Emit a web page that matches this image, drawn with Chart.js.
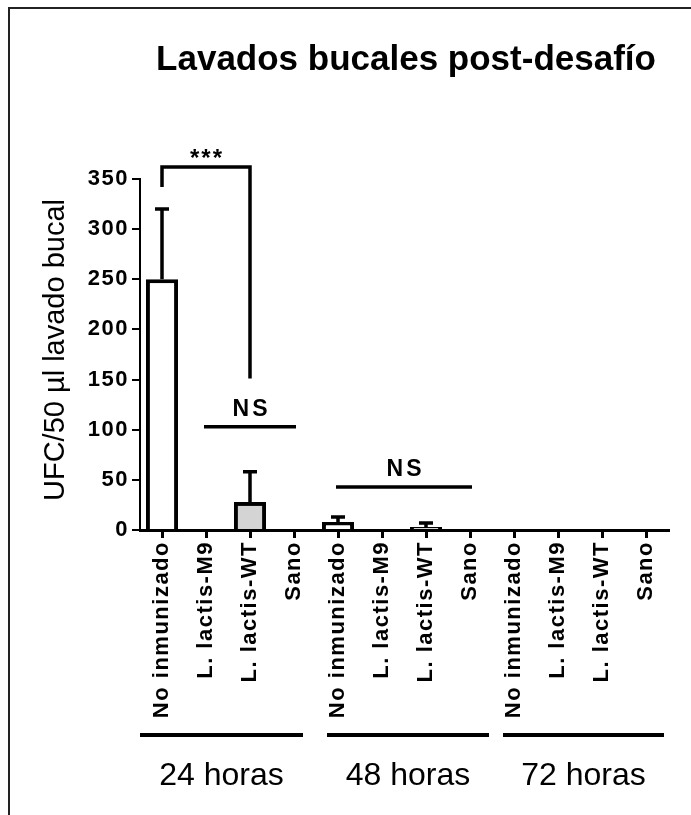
<!DOCTYPE html>
<html><head><meta charset="utf-8">
<script src="https://cdn.jsdelivr.net/npm/chart.js@4.4.1/dist/chart.umd.min.js"></script>
<style>html,body{margin:0;padding:0;background:#fff;overflow:hidden}#wrap{width:691px;height:815px;position:relative}</style>
</head><body><div id="wrap"><canvas id="c" width="691" height="815"></canvas></div>
<script>
const categories = ['No inmunizado','L. lactis-M9','L. lactis-WT','Sano',
                    'No inmunizado','L. lactis-M9','L. lactis-WT','Sano',
                    'No inmunizado','L. lactis-M9','L. lactis-WT','Sano'];
const groupLabels = ['24 horas','48 horas','72 horas'];
const groupFirst = [0,4,8];
const groupLast = [3,7,11];
const means  = [250,0,28,0, 8,0,3,0, 0,0,0,0];
const errors = [70,0,30,0, 5,0,4,0, 0,0,0,0];
const yTickValues = [0,50,100,150,200,250,300,350];
const sigLabels = ['***','NS','NS'];
const sigFrom = [0,1,4];
const sigTo = [2,3,7];
const sigLevel = [362,103,43];
const barColors = ['#ffffff','#ffffff','#d4d4d4','#ffffff'];

const FONT = "'Liberation Sans', Arial, Helvetica, sans-serif";

const extras = {
  id: 'extras',
  beforeDraw(chart) {
    chart.ctx.letterSpacing = '1.5px';
  },
  afterDatasetsDraw(chart) {
    const ctx = chart.ctx;
    const xs = chart.scales.x, ys = chart.scales.y;
    ctx.save();
    ctx.strokeStyle = '#000';
    ctx.lineWidth = 3.5;
    ctx.lineCap = 'butt';
    for (let i = 0; i < means.length; i++) {
      if (!errors[i]) continue;
      const x = xs.getPixelForValue(i);
      const y0 = ys.getPixelForValue(means[i]);
      const y1 = ys.getPixelForValue(means[i] + errors[i]);
      ctx.beginPath();
      ctx.moveTo(x, y0); ctx.lineTo(x, y1);
      ctx.moveTo(x - 7, y1); ctx.lineTo(x + 7, y1);
      ctx.stroke();
    }
    ctx.restore();
  },
  afterDraw(chart) {
    const ctx = chart.ctx;
    const xs = chart.scales.x, ys = chart.scales.y;
    ctx.save();
    ctx.letterSpacing = '0px';
    ctx.strokeStyle = '#222';
    ctx.lineWidth = 2;
    ctx.beginPath();
    ctx.moveTo(9, 815); ctx.lineTo(9, 8); ctx.lineTo(691, 8);
    ctx.stroke();
    ctx.fillStyle = '#000';
    ctx.textAlign = 'center';
    ctx.textBaseline = 'alphabetic';
    ctx.font = 'bold 35px ' + FONT;
    ctx.fillText('Lavados bucales post-desafío', 406, 70);
    ctx.save();
    ctx.translate(56, 350);
    ctx.rotate(-Math.PI / 2);
    ctx.font = '29px ' + FONT;
    ctx.textBaseline = 'middle';
    ctx.fillText('UFC/50 µl lavado bucal', 0, 0);
    ctx.restore();
    ctx.strokeStyle = '#000';
    ctx.lineWidth = 3.5;
    {
      const xa = xs.getPixelForValue(sigFrom[0]), xb = xs.getPixelForValue(sigTo[0]);
      const yt = ys.getPixelForValue(sigLevel[0]);
      ctx.beginPath();
      ctx.moveTo(xa, ys.getPixelForValue(342));
      ctx.lineTo(xa, yt); ctx.lineTo(xb, yt);
      ctx.lineTo(xb, ys.getPixelForValue(151));
      ctx.stroke();
      ctx.font = 'bold 24px ' + FONT;
      ctx.letterSpacing = '2px';
      ctx.fillText(sigLabels[0], (xa + xb) / 2 + 1, 166);
    }
    for (let k = 1; k < sigLabels.length; k++) {
      const xa = xs.getPixelForValue(sigFrom[k]) - 2, xb = xs.getPixelForValue(sigTo[k]) + 2;
      const y = ys.getPixelForValue(sigLevel[k]);
      ctx.beginPath();
      ctx.moveTo(xa, y); ctx.lineTo(xb, y);
      ctx.stroke();
      ctx.font = 'bold 23px ' + FONT;
      ctx.letterSpacing = '3px';
      ctx.fillText(sigLabels[k], (xa + xb) / 2 + 1.5, y - 11);
    }
    ctx.letterSpacing = '0px';
    const startOff = [-22, -11, -11], endOff = [9, 19, 18];
    ctx.lineWidth = 4;
    for (let g = 0; g < groupLabels.length; g++) {
      const xa = xs.getPixelForValue(groupFirst[g]) + startOff[g];
      const xb = xs.getPixelForValue(groupLast[g]) + endOff[g];
      ctx.beginPath();
      ctx.moveTo(xa, 735); ctx.lineTo(xb, 735);
      ctx.stroke();
      ctx.font = '32px ' + FONT;
      ctx.textBaseline = 'middle';
      ctx.fillText(groupLabels[g], (xa + xb) / 2, 776);
      ctx.textBaseline = 'alphabetic';
    }
    ctx.restore();
  }
};

new Chart(document.getElementById('c'), {
  type: 'bar',
  data: {
    labels: categories,
    datasets: [{
      data: means,
      backgroundColor: means.map((v, i) => barColors[i % 4]),
      borderColor: '#000',
      borderWidth: 4,
      barPercentage: 0.73,
      categoryPercentage: 1.0
    }]
  },
  options: {
    responsive: false,
    animation: false,
    devicePixelRatio: 1,
    layout: { padding: { left: 0, right: 23, top: 179, bottom: 85 } },
    plugins: { legend: { display: false }, title: { display: false }, tooltip: { enabled: false } },
    scales: {
      x: {
        offset: true,
        grid: { display: true, offset: false, drawOnChartArea: false, drawTicks: true, tickLength: 8, color: '#000', lineWidth: 3 },
        border: { display: true, color: '#000', width: 3 },
        ticks: { autoSkip: false, minRotation: 90, maxRotation: 90, padding: 3, color: '#000',
                 font: { family: FONT, size: 22, weight: 'bold' } },
        afterFit(s) { s.height = 200; }
      },
      y: {
        min: 0, max: 350,
        afterBuildTicks(s) { s.ticks = yTickValues.map(v => ({ value: v })); },
        grid: { display: true, drawOnChartArea: false, drawTicks: true, tickLength: 8, color: '#000', lineWidth: 2 },
        border: { display: true, color: '#000', width: 2 },
        ticks: { padding: 3, color: '#000', font: { family: FONT, size: 22, weight: 'bold' } },
        afterFit(s) { s.width = 140; }
      }
    }
  },
  plugins: [extras]
});
</script>
</body></html>
